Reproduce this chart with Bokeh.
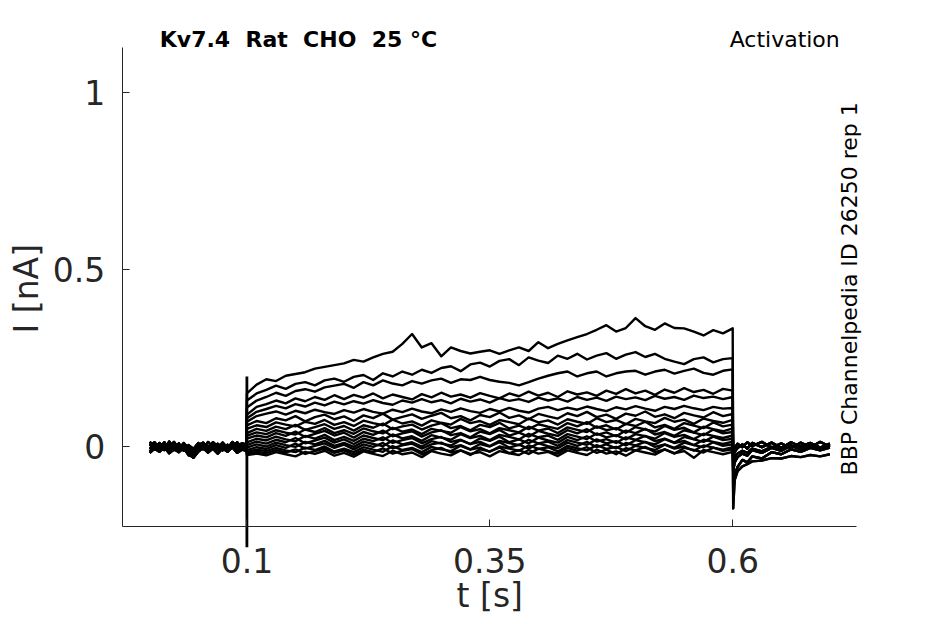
import numpy as np
from bokeh.plotting import figure
from bokeh.models import Range1d, FixedTicker, Label
from bokeh.embed import file_html
from bokeh.resources import INLINE

# ---------------- data ----------------
x_ticks = [0.1, 0.35, 0.6]
x_tick_labels = ["0.1", "0.35", "0.6"]
y_ticks = [0, 0.5, 1]
y_tick_labels = ["0", "0.5", "1"]
x_axis_extent = (-0.02834, 0.72741)   # s
y_axis_extent = (-0.22759, 1.12808)   # nA

# sampling times (s)
t_pre = [0.000, 0.005, 0.010, 0.015, 0.020, 0.025, 0.030, 0.035, 0.040, 0.045,
         0.050, 0.055, 0.060, 0.065, 0.070, 0.075, 0.080, 0.085, 0.090, 0.095, 0.0995]
t_step = [round(0.10 + 0.01 * i, 3) for i in range(51)]
t_post = [0.6005, 0.602, 0.605, 0.61, 0.615, 0.62, 0.63, 0.64, 0.65, 0.66, 0.67, 0.68, 0.69, 0.70]

# holding current before the step (nA)
base_1 = [0.006, -0.008, 0.010, -0.005, 0.008, -0.010, 0.004, -0.006, -0.022, -0.032,
          -0.014, 0.006, -0.008, 0.010, -0.004, 0.007, -0.009, 0.008, -0.005, 0.004, 0.001]
base_2 = [-0.007, 0.009, -0.004, 0.012, -0.008, 0.006, -0.011, 0.008, -0.003, -0.015,
          -0.009, 0.010, -0.005, 0.007, -0.010, 0.011, -0.004, 0.006, -0.009, 0.008, 0.003]
base_3 = [0.013, -0.003, 0.007, -0.010, 0.014, -0.005, 0.009, -0.012, 0.004, -0.007,
          0.010, -0.008, 0.013, -0.003, 0.008, -0.011, 0.005, -0.004, 0.012, -0.006, 0.005]
base_4 = [-0.014, 0.003, -0.011, 0.005, -0.013, 0.002, -0.009, 0.004, -0.017, -0.022,
          -0.008, 0.003, -0.012, 0.005, -0.015, 0.002, -0.010, 0.004, -0.013, -0.002, -0.007]
base_5 = [0.002, 0.012, -0.006, 0.009, -0.002, 0.013, -0.007, 0.010, -0.010, -0.018,
          0.004, 0.011, -0.003, 0.012, 0.000, 0.010, -0.006, 0.013, 0.001, 0.009, 0.006]
base_6 = [-0.018, -0.006, -0.015, -0.002, -0.019, -0.008, -0.016, -0.003, -0.025, -0.028,
          -0.014, -0.004, -0.017, -0.006, -0.020, -0.005, -0.015, -0.002, -0.018, -0.009, -0.012]

# currents during the voltage step (nA), one list per sweep
sweep_a = [0.150, 0.175, 0.190, 0.185, 0.200, 0.205, 0.210, 0.220, 0.225, 0.230,
           0.235, 0.245, 0.240, 0.252, 0.262, 0.268, 0.290, 0.318, 0.280, 0.292,
           0.255, 0.280, 0.270, 0.263, 0.268, 0.272, 0.262, 0.272, 0.280, 0.270,
           0.295, 0.278, 0.290, 0.300, 0.309, 0.318, 0.330, 0.343, 0.325, 0.335,
           0.363, 0.340, 0.330, 0.348, 0.335, 0.334, 0.325, 0.314, 0.329, 0.320,
           0.334]
sweep_b = [0.130, 0.150, 0.160, 0.172, 0.163, 0.177, 0.182, 0.173, 0.187, 0.192,
           0.183, 0.197, 0.202, 0.188, 0.207, 0.198, 0.212, 0.203, 0.217, 0.208,
           0.222, 0.227, 0.213, 0.232, 0.237, 0.226, 0.242, 0.247, 0.230, 0.252,
           0.243, 0.236, 0.257, 0.248, 0.262, 0.246, 0.257, 0.264, 0.248, 0.260,
           0.267, 0.253, 0.262, 0.248, 0.240, 0.233, 0.247, 0.252, 0.238, 0.247,
           0.250]
sweep_c = [0.110, 0.130, 0.140, 0.152, 0.143, 0.157, 0.162, 0.155, 0.167, 0.172,
           0.177, 0.166, 0.182, 0.173, 0.187, 0.178, 0.173, 0.185, 0.178, 0.187,
           0.192, 0.180, 0.190, 0.188, 0.197, 0.188, 0.183, 0.180, 0.173, 0.182,
           0.192, 0.200, 0.207, 0.212, 0.198, 0.207, 0.212, 0.198, 0.207, 0.212,
           0.214, 0.203, 0.212, 0.217, 0.206, 0.214, 0.220, 0.208, 0.203, 0.214,
           0.218]
sweep_d = [0.090, 0.112, 0.120, 0.130, 0.122, 0.136, 0.128, 0.140, 0.132, 0.145,
           0.134, 0.146, 0.138, 0.150, 0.136, 0.147, 0.140, 0.133, 0.148, 0.139,
           0.152, 0.141, 0.147, 0.138, 0.151, 0.143, 0.136, 0.150, 0.142, 0.155,
           0.144, 0.152, 0.140, 0.156, 0.147, 0.153, 0.143, 0.158, 0.149, 0.162,
           0.150, 0.158, 0.146, 0.161, 0.152, 0.165, 0.154, 0.160, 0.149, 0.163,
           0.158]
sweep_e = [0.080, 0.098, 0.106, 0.115, 0.108, 0.120, 0.113, 0.124, 0.116, 0.127,
           0.119, 0.128, 0.121, 0.131, 0.123, 0.118, 0.130, 0.124, 0.134, 0.125,
           0.131, 0.122, 0.135, 0.127, 0.133, 0.124, 0.137, 0.129, 0.134, 0.126,
           0.138, 0.130, 0.136, 0.127, 0.140, 0.132, 0.138, 0.129, 0.141, 0.134,
           0.139, 0.131, 0.143, 0.135, 0.140, 0.132, 0.144, 0.137, 0.141, 0.134,
           0.140]
sweep_f = [0.070, 0.086, 0.093, 0.099, 0.090, 0.101, 0.094, 0.104, 0.097, 0.092,
           0.103, 0.096, 0.106, 0.098, 0.093, 0.104, 0.097, 0.107, 0.099, 0.094,
           0.105, 0.098, 0.108, 0.100, 0.095, 0.106, 0.099, 0.109, 0.101, 0.096,
           0.107, 0.112, 0.103, 0.110, 0.104, 0.113, 0.106, 0.100, 0.111, 0.105,
           0.114, 0.107, 0.101, 0.112, 0.106, 0.115, 0.108, 0.103, 0.112, 0.107,
           0.109]
sweep_g = [0.060, 0.072, 0.066, 0.080, 0.074, 0.086, 0.071, 0.083, 0.090, 0.077,
           0.085, 0.072, 0.088, 0.080, 0.093, 0.076, 0.084, 0.091, 0.078, 0.087,
           0.095, 0.080, 0.086, 0.074, 0.089, 0.083, 0.096, 0.081, 0.088, 0.077,
           0.092, 0.085, 0.079, 0.094, 0.086, 0.098, 0.083, 0.090, 0.078, 0.093,
           0.087, 0.099, 0.084, 0.091, 0.080, 0.095, 0.088, 0.082, 0.097, 0.086,
           0.092]
sweep_h = [0.050, 0.060, 0.055, 0.068, 0.062, 0.057, 0.070, 0.064, 0.075, 0.061,
           0.069, 0.058, 0.073, 0.066, 0.060, 0.076, 0.065, 0.071, 0.059, 0.074,
           0.067, 0.062, 0.078, 0.066, 0.072, 0.061, 0.075, 0.069, 0.063, 0.079,
           0.068, 0.074, 0.062, 0.077, 0.070, 0.064, 0.080, 0.069, 0.075, 0.063,
           0.078, 0.071, 0.066, 0.081, 0.070, 0.076, 0.064, 0.079, 0.072, 0.067,
           0.075]
sweep_i = [0.038, 0.050, 0.044, 0.056, 0.049, 0.061, 0.047, 0.055, 0.063, 0.050,
           0.058, 0.045, 0.060, 0.053, 0.065, 0.049, 0.057, 0.062, 0.048, 0.059,
           0.066, 0.052, 0.058, 0.046, 0.061, 0.055, 0.067, 0.051, 0.059, 0.049,
           0.063, 0.056, 0.050, 0.066, 0.057, 0.069, 0.053, 0.060, 0.048, 0.064,
           0.058, 0.070, 0.054, 0.061, 0.050, 0.066, 0.059, 0.052, 0.068, 0.057,
           0.062]
sweep_j = [0.030, 0.040, 0.035, 0.046, 0.039, 0.034, 0.048, 0.041, 0.052, 0.038,
           0.046, 0.036, 0.051, 0.043, 0.037, 0.053, 0.042, 0.048, 0.035, 0.050,
           0.044, 0.039, 0.055, 0.043, 0.049, 0.037, 0.052, 0.046, 0.040, 0.056,
           0.045, 0.051, 0.038, 0.054, 0.047, 0.041, 0.057, 0.046, 0.052, 0.039,
           0.055, 0.048, 0.042, 0.058, 0.047, 0.053, 0.040, 0.056, 0.049, 0.043,
           0.051]
sweep_k = [0.022, 0.031, 0.026, 0.038, 0.030, 0.042, 0.027, 0.036, 0.044, 0.031,
           0.039, 0.025, 0.041, 0.033, 0.045, 0.029, 0.037, 0.043, 0.028, 0.040,
           0.046, 0.032, 0.038, 0.026, 0.042, 0.035, 0.047, 0.031, 0.039, 0.028,
           0.044, 0.036, 0.030, 0.046, 0.037, 0.049, 0.033, 0.040, 0.029, 0.045,
           0.038, 0.050, 0.034, 0.041, 0.030, 0.046, 0.039, 0.032, 0.048, 0.037,
           0.041]
sweep_l = [0.012, 0.022, 0.017, 0.028, 0.020, 0.015, 0.030, 0.022, 0.033, 0.018,
           0.027, 0.016, 0.031, 0.024, 0.018, 0.034, 0.023, 0.029, 0.016, 0.032,
           0.025, 0.019, 0.035, 0.024, 0.030, 0.018, 0.033, 0.027, 0.020, 0.036,
           0.026, 0.031, 0.019, 0.035, 0.028, 0.021, 0.037, 0.026, 0.032, 0.020,
           0.035, 0.029, 0.022, 0.038, 0.027, 0.033, 0.021, 0.036, 0.030, 0.024,
           0.031]
sweep_m = [0.004, 0.014, 0.008, 0.019, 0.012, 0.024, 0.009, 0.017, 0.025, 0.011,
           0.020, 0.007, 0.022, 0.015, 0.026, 0.010, 0.018, 0.024, 0.009, 0.021,
           0.027, 0.013, 0.019, 0.007, 0.023, 0.016, 0.028, 0.012, 0.020, 0.009,
           0.025, 0.017, 0.011, 0.027, 0.018, 0.029, 0.014, 0.021, 0.010, 0.026,
           0.019, 0.030, 0.015, 0.022, 0.011, 0.027, 0.020, 0.013, 0.028, 0.018,
           0.022]
sweep_n = [-0.003, 0.006, 0.000, 0.011, 0.004, -0.001, 0.013, 0.006, 0.016, 0.002,
           0.010, -0.001, 0.014, 0.007, 0.001, 0.017, 0.006, 0.012, 0.000, 0.015,
           0.008, 0.003, 0.018, 0.007, 0.013, 0.001, 0.016, 0.010, 0.004, 0.019,
           0.009, 0.014, 0.002, 0.018, 0.011, 0.005, 0.020, 0.009, 0.015, 0.003,
           0.018, 0.012, 0.006, 0.021, 0.010, 0.016, 0.004, 0.019, 0.013, 0.007,
           0.014]
sweep_o = [-0.010, -0.002, -0.007, 0.004, -0.004, 0.008, -0.006, 0.002, 0.009, -0.004,
           0.005, -0.008, 0.006, -0.001, 0.010, -0.005, 0.003, 0.008, -0.006, 0.006,
           0.011, -0.002, 0.004, -0.008, 0.007, 0.000, 0.012, -0.003, 0.005, -0.006,
           0.009, 0.001, -0.005, 0.011, 0.002, 0.013, -0.002, 0.006, -0.005, 0.010,
           0.003, 0.013, -0.001, 0.006, -0.004, 0.011, 0.004, -0.002, 0.012, 0.002,
           0.006]
sweep_p = [-0.016, -0.009, -0.013, -0.004, -0.011, -0.016, -0.003, -0.010, 0.000, -0.014,
           -0.006, -0.016, -0.002, -0.009, -0.015, 0.001, -0.010, -0.004, -0.016, -0.001,
           -0.008, -0.013, 0.002, -0.009, -0.003, -0.015, 0.000, -0.006, -0.012, 0.003,
           -0.007, -0.002, -0.014, 0.002, -0.005, -0.011, 0.004, -0.007, -0.001, -0.013,
           0.002, -0.004, -0.010, 0.005, -0.006, 0.000, -0.012, 0.003, -0.003, -0.009,
           -0.002]
sweep_q = [-0.020, -0.015, -0.019, -0.010, -0.017, -0.008, -0.021, -0.013, -0.006, -0.018,
           -0.011, -0.023, -0.009, -0.016, -0.005, -0.020, -0.012, -0.007, -0.022, -0.010,
           -0.004, -0.017, -0.011, -0.024, -0.008, -0.014, -0.003, -0.019, -0.010, -0.021,
           -0.006, -0.013, -0.020, -0.004, -0.012, -0.002, -0.018, -0.009, -0.022, -0.005,
           -0.011, -0.001, -0.016, -0.008, -0.020, -0.004, -0.010, -0.017, -0.003, -0.012,
           -0.008]
sweep_r = [-0.024, -0.020, -0.025, -0.016, -0.022, -0.028, -0.015, -0.021, -0.012, -0.026,
           -0.018, -0.029, -0.014, -0.021, -0.027, -0.012, -0.022, -0.017, -0.030, -0.013,
           -0.020, -0.025, -0.011, -0.021, -0.016, -0.028, -0.013, -0.019, -0.024, -0.010,
           -0.020, -0.015, -0.027, -0.011, -0.018, -0.024, -0.009, -0.020, -0.014, -0.026,
           -0.011, -0.017, -0.023, -0.008, -0.019, -0.013, -0.032, -0.010, -0.016, -0.022,
           -0.015]

# tail currents after the step (nA)
tail_1 = [-0.175, -0.095, -0.070, -0.056, -0.050, -0.042, -0.040, -0.033, -0.034, -0.027, -0.030, -0.024, -0.028, -0.022]
tail_2 = [-0.130, -0.080, -0.058, -0.038, -0.045, -0.028, -0.034, -0.016, -0.022, -0.008, -0.015, -0.004, -0.011, -0.003]
tail_3 = [-0.070, -0.045, -0.030, -0.020, -0.026, -0.010, -0.018, -0.004, -0.012, 0.002, -0.008, 0.005, -0.005, 0.004]
tail_4 = [-0.030, -0.015, -0.004, 0.006, -0.006, 0.010, -0.002, 0.011, -0.004, 0.012, 0.000, 0.010, -0.003, 0.008]
tail_5 = [-0.015, -0.004, 0.008, -0.002, 0.012, 0.001, 0.013, -0.003, 0.009, -0.005, 0.011, -0.002, 0.013, 0.000]
tail_6 = [-0.045, -0.030, -0.020, -0.012, -0.018, -0.006, -0.014, -0.001, -0.010, 0.003, -0.007, 0.004, -0.009, 0.002]

# capacitive artefact at step onset
artefact_t = [0.1]
artefact_hi = [0.198]
artefact_lo = [-0.285]

sweeps = [sweep_a, sweep_b, sweep_c, sweep_d, sweep_e, sweep_f, sweep_g, sweep_h, sweep_i,
          sweep_j, sweep_k, sweep_l, sweep_m, sweep_n, sweep_o, sweep_p, sweep_q, sweep_r]
bases = [base_1, base_2, base_3, base_4, base_5, base_6]
tails = [tail_1, tail_1, tail_2, tail_2, tail_2, tail_6, tail_3, tail_6, tail_3,
         tail_4, tail_6, tail_4, tail_5, tail_4, tail_5, tail_4, tail_5, tail_3]

title_text = "Kv7.4 \u00a0Rat \u00a0CHO \u00a025 °C"
protocol_text = "Activation"
source_text = "BBP Channelpedia ID 26250 rep 1"

# ---------------- figure ----------------
FONT = "DejaVu Sans"
AX_COL = "#262626"
p = figure(width=929, height=616, output_backend="svg", toolbar_location=None,
           x_range=Range1d(-0.15360, 0.80255), y_range=Range1d(-0.48063, 1.26095),
           min_border=0)
p.outline_line_color = None
p.grid.visible = False
p.background_fill_color = "white"
p.border_fill_color = "white"

t_all = t_pre + t_step + t_post
for k, sw in enumerate(sweeps):
    y = bases[k % 6] + sw + tails[k]
    p.line(t_all, y, line_color="black", line_width=2.4, line_join="round")

p.segment(x0=artefact_t, y0=artefact_hi, x1=artefact_t, y1=artefact_lo,
          line_color="black", line_width=2.8)

p.xaxis.fixed_location = y_axis_extent[0]
p.yaxis.fixed_location = x_axis_extent[0]
p.xaxis.bounds = x_axis_extent
p.yaxis.bounds = y_axis_extent

for ax, ticks, labels in ((p.xaxis[0], x_ticks, x_tick_labels), (p.yaxis[0], y_ticks, y_tick_labels)):
    ax.ticker = FixedTicker(ticks=ticks)
    ax.major_label_overrides = {float(t): l for t, l in zip(ticks, labels)}
    ax.minor_tick_line_color = None
    ax.major_tick_in = 7
    ax.major_tick_out = 0
    ax.axis_line_color = AX_COL
    ax.major_tick_line_color = AX_COL
    ax.major_label_text_color = AX_COL
    ax.major_label_text_font = FONT
    ax.major_label_text_font_size = "33px"

p.xaxis.major_label_standoff = 21
p.yaxis.major_label_standoff = 17

# axis titles
p.add_layout(Label(x=0.35, y=-0.4221, text="t [s]", text_font=FONT, text_font_size="33px",
                   text_color=AX_COL, text_align="center", text_baseline="alphabetic"))
p.add_layout(Label(x=-0.12725, y=0.4461, text="I [nA]", text_font=FONT, text_font_size="33px",
                   text_color=AX_COL, text_align="center", text_baseline="alphabetic",
                   angle=np.pi / 2))

# annotations
p.add_layout(Label(x=0.01035, y=1.1509, text=title_text, text_font=FONT,
                   text_font_size="22px", text_font_style="bold", text_color="black",
                   text_baseline="alphabetic", text_align="left"))
p.add_layout(Label(x=0.7102, y=1.1509, text=protocol_text, text_font=FONT,
                   text_font_size="22px", text_color="black",
                   text_baseline="alphabetic", text_align="right"))
p.add_layout(Label(x=0.72011, y=0.4458, text=source_text, text_font=FONT,
                   text_font_size="22px", text_color="black", angle=np.pi / 2,
                   text_baseline="alphabetic", text_align="center"))

open("out.html", "w").write(file_html(p, INLINE))
